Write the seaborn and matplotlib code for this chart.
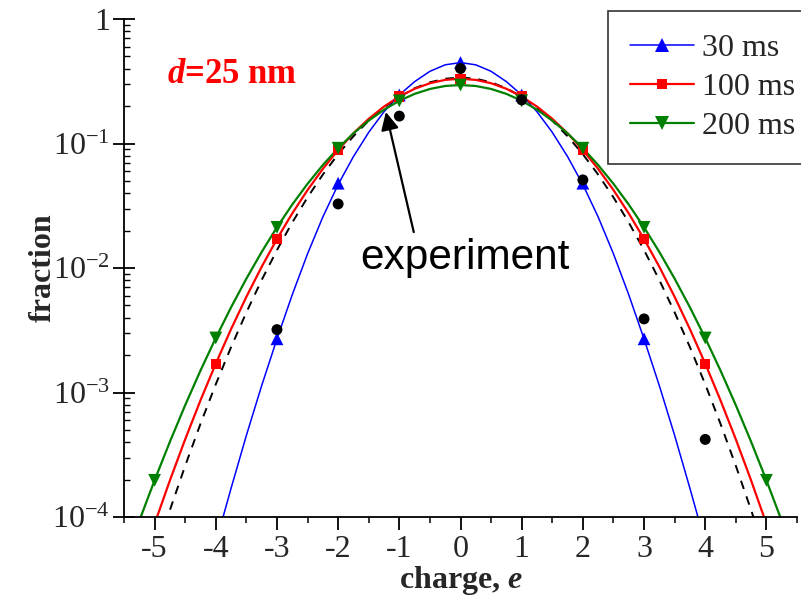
import matplotlib
matplotlib.use("Agg")
import matplotlib.pyplot as plt
import seaborn as sns
from matplotlib.lines import Line2D
from matplotlib.ticker import FixedLocator, FixedFormatter, LogLocator, MultipleLocator, NullFormatter

# ---------------- data ----------------
# markers at integer charges
charge_30 = [-3, -2, -1, 0, 1, 2, 3]
frac_30 = [0.0027, 0.048, 0.245, 0.447, 0.245, 0.048, 0.0027]

charge_100 = [-4, -3, -2, -1, 0, 1, 2, 3, 4]
frac_100 = [0.0017, 0.0171, 0.0887, 0.238, 0.331, 0.238, 0.0887, 0.0171, 0.0017]

charge_200 = [-5, -4, -3, -2, -1, 0, 1, 2, 3, 4, 5]
frac_200 = [0.000197, 0.00274, 0.0212, 0.0916, 0.220, 0.295, 0.220, 0.0916, 0.0212, 0.00274, 0.000197]

charge_exp = [-3, -2, -1, 0, 1, 2, 3, 4]
frac_exp = [0.0032, 0.0327, 0.166, 0.40, 0.224, 0.051, 0.0039, 0.00042]

# curves (every 0.25 in charge)
curve_x_30 = [-4.0, -3.75, -3.5, -3.25, -3.0, -2.75, -2.5, -2.25, -2.0, -1.75, -1.5, -1.25, -1.0,
              -0.75, -0.5, -0.25, 0.0, 0.25, 0.5, 0.75, 1.0, 1.25, 1.5, 1.75, 2.0, 2.25, 2.5,
              2.75, 3.0, 3.25, 3.5, 3.75, 4.0]
curve_y_30 = [6.17e-5, 1.70e-4, 4.52e-4, 1.135e-3, 2.69e-3, 6.10e-3, 1.30e-2, 2.57e-2, 4.68e-2,
              7.85e-2, 0.123, 0.180, 0.2455, 0.314, 0.380, 0.4285, 0.4467, 0.4285, 0.380, 0.314,
              0.2455, 0.180, 0.123, 7.85e-2, 4.68e-2, 2.57e-2, 1.30e-2, 6.10e-3, 2.69e-3,
              1.135e-3, 4.52e-4, 1.70e-4, 6.17e-5]

curve_x_100 = [-5.0, -4.75, -4.5, -4.25, -4.0, -3.75, -3.5, -3.25, -3.0, -2.75, -2.5, -2.25, -2.0,
               -1.75, -1.5, -1.25, -1.0, -0.75, -0.5, -0.25, 0.0, 0.25, 0.5, 0.75, 1.0, 1.25, 1.5,
               1.75, 2.0, 2.25, 2.5, 2.75, 3.0, 3.25, 3.5, 3.75, 4.0, 4.25, 4.5, 4.75, 5.0]
curve_y_100 = [8.81e-5, 1.966e-4, 4.21e-4, 8.65e-4, 1.706e-3, 3.229e-3, 5.865e-3, 1.022e-2, 1.71e-2,
               2.745e-2, 4.229e-2, 6.25e-2, 8.87e-2, 0.1208, 0.1579, 0.198, 0.2382, 0.2751, 0.3049,
               0.3244, 0.3311, 0.3244, 0.3049, 0.2751, 0.2382, 0.198, 0.1579, 0.1208, 8.87e-2,
               6.25e-2, 4.229e-2, 2.745e-2, 1.71e-2, 1.022e-2, 5.865e-3, 3.229e-3, 1.706e-3,
               8.65e-4, 4.21e-4, 1.966e-4, 8.81e-5]

curve_x_200 = [-5.5, -5.25, -5.0, -4.75, -4.5, -4.25, -4.0, -3.75, -3.5, -3.25, -3.0, -2.75, -2.5,
               -2.25, -2.0, -1.75, -1.5, -1.25, -1.0, -0.75, -0.5, -0.25, 0.0, 0.25, 0.5, 0.75,
               1.0, 1.25, 1.5, 1.75, 2.0, 2.25, 2.5, 2.75, 3.0, 3.25, 3.5, 3.75, 4.0, 4.25, 4.5,
               4.75, 5.0, 5.25, 5.5]
curve_y_200 = [4.25e-5, 9.32e-5, 1.972e-4, 4.02e-4, 7.91e-4, 1.50e-3, 2.742e-3, 4.831e-3, 8.209e-3,
               1.345e-2, 2.123e-2, 3.233e-2, 4.745e-2, 6.715e-2, 9.162e-2, 0.1206, 0.1528, 0.1869,
               0.2203, 0.2504, 0.2742, 0.2897, 0.2951, 0.2897, 0.2742, 0.2504, 0.2203, 0.1869,
               0.1528, 0.1206, 9.162e-2, 6.715e-2, 4.745e-2, 3.233e-2, 2.123e-2, 1.345e-2,
               8.209e-3, 4.831e-3, 2.742e-3, 1.50e-3, 7.91e-4, 4.02e-4, 1.972e-4, 9.32e-5, 4.25e-5]

curve_x_exp = [-5.0, -4.75, -4.5, -4.25, -4.0, -3.75, -3.5, -3.25, -3.0, -2.75, -2.5, -2.25, -2.0,
               -1.75, -1.5, -1.25, -1.0, -0.75, -0.5, -0.25, 0.0, 0.25, 0.5, 0.75, 1.0, 1.25, 1.5,
               1.75, 2.0, 2.25, 2.5, 2.75, 3.0, 3.25, 3.5, 3.75, 4.0, 4.25, 4.5, 4.75, 5.0]
curve_y_exp = [4.79e-5, 1.136e-4, 2.58e-4, 5.60e-4, 1.164e-3, 2.314e-3, 4.40e-3, 8.005e-3, 1.393e-2,
               2.32e-2, 3.694e-2, 5.627e-2, 8.204e-2, 0.1144, 0.1526, 0.1947, 0.2377, 0.2776,
               0.3101, 0.3314, 0.3388, 0.3314, 0.3101, 0.2776, 0.2377, 0.1947, 0.1526, 0.1144,
               8.204e-2, 5.627e-2, 3.694e-2, 2.32e-2, 1.393e-2, 8.005e-3, 4.40e-3, 2.314e-3,
               1.164e-3, 5.60e-4, 2.58e-4, 1.136e-4, 4.79e-5]

series_labels = ["30 ms", "100 ms", "200 ms"]
x_ticks = [-5, -4, -3, -2, -1, 0, 1, 2, 3, 4, 5]
x_tick_labels = ["-5", "-4", "-3", "-2", "-1", "0", "1", "2", "3", "4", "5"]
y_ticks = [1e-4, 1e-3, 1e-2, 1e-1, 1]
y_tick_labels = [r"$10^{-4}$", r"$10^{-3}$", r"$10^{-2}$", r"$10^{-1}$", "1"]

# ---------------- style ----------------
sns.set_theme(style="white")
plt.rcParams["font.family"] = ["Liberation Serif", "DejaVu Serif"]
plt.rcParams["mathtext.fontset"] = "custom"
plt.rcParams["mathtext.rm"] = "Liberation Serif"
plt.rcParams["mathtext.it"] = "Liberation Serif:style=italic:weight=bold"
plt.rcParams["mathtext.bf"] = "Liberation Serif:weight=bold"
plt.rcParams["mathtext.default"] = "regular"
plt.rcParams["axes.unicode_minus"] = False

BLUE, RED, GREEN = "#0000ff", "#ff0000", "#008000"
FS = 23

fig = plt.figure(figsize=(8.01, 5.98), dpi=100)
ax = fig.add_axes([124 / 801, 1 - 517 / 598, (797 - 124) / 801, (517 - 19) / 598])

# curves
sns.lineplot(x=curve_x_30, y=curve_y_30, ax=ax, color=BLUE, linewidth=1.1,
             sort=False, estimator=None, legend=False)
sns.lineplot(x=curve_x_exp, y=curve_y_exp, ax=ax, color="black", linewidth=1.4,
             sort=False, estimator=None, legend=False)
ax.lines[-1].set_dashes((4.5, 4.0))
sns.lineplot(x=curve_x_100, y=curve_y_100, ax=ax, color=RED, linewidth=1.6,
             sort=False, estimator=None, legend=False)
sns.lineplot(x=curve_x_200, y=curve_y_200, ax=ax, color=GREEN, linewidth=1.6,
             sort=False, estimator=None, legend=False)

# markers
sns.scatterplot(x=charge_30, y=frac_30, ax=ax, marker="^", s=85, color=BLUE,
                edgecolor="none", linewidth=0, zorder=4, legend=False)
sns.scatterplot(x=charge_100, y=frac_100, ax=ax, marker="s", s=55, color=RED,
                edgecolor="none", linewidth=0, zorder=4, legend=False)
sns.scatterplot(x=charge_200, y=frac_200, ax=ax, marker="v", s=85, color=GREEN,
                edgecolor="none", linewidth=0, zorder=4, legend=False)
sns.scatterplot(x=charge_exp, y=frac_exp, ax=ax, marker="o", s=62, color="black",
                edgecolor="none", linewidth=0, zorder=5, legend=False)

# axes
ax.set_yscale("log")
ax.set_xlim(-5.5, 5.5)
ax.set_ylim(1e-4, 1)
ax.xaxis.set_major_locator(FixedLocator(x_ticks))
ax.xaxis.set_major_formatter(FixedFormatter(x_tick_labels))
ax.xaxis.set_minor_locator(MultipleLocator(0.5))
ax.yaxis.set_major_locator(FixedLocator(y_ticks))
ax.yaxis.set_major_formatter(FixedFormatter(y_tick_labels))
ax.yaxis.set_minor_locator(LogLocator(base=10, subs=range(2, 10), numticks=20))
ax.yaxis.set_minor_formatter(NullFormatter())

for side in ["top", "right"]:
    ax.spines[side].set_visible(False)
for side in ["left", "bottom"]:
    ax.spines[side].set_color("black")
    ax.spines[side].set_linewidth(1.3)

ax.tick_params(axis="x", which="major", direction="out", length=9, width=1.3,
               color="black", labelsize=FS, pad=4, bottom=True)
ax.tick_params(axis="x", which="minor", direction="out", length=4.5, width=1.1,
               color="black", bottom=True)
ax.tick_params(axis="y", which="major", direction="inout", length=16, width=1.3,
               color="black", labelsize=FS, pad=2, left=True)
ax.tick_params(axis="y", which="minor", direction="in", length=4, width=1.0,
               color="black", left=True)

ax.set_xlabel(r"charge, $\mathit{e}$", fontsize=FS, fontweight="bold")
ax.set_ylabel("fraction", fontsize=FS, fontweight="bold")
ax.xaxis.set_label_coords(0.5, -0.094)
ax.yaxis.label.set_va("center")
ax.yaxis.set_label_coords(-0.12, 0.5)

# annotations
ax.text(-4.8, 0.36, r"$\mathit{d}$=25 nm", color=RED, fontsize=25,
        fontweight="bold", ha="left", va="center")

ax.annotate("experiment", xy=(-1.22, 0.179), xytext=(0.08, 0.0098),
            fontsize=30.5, family=["Liberation Sans", "DejaVu Sans"],
            ha="center", va="baseline", color="black",
            arrowprops=dict(arrowstyle="-|>", color="black", lw=1.6,
                            mutation_scale=27, relpos=(0.26, 1.0),
                            shrinkA=2, shrinkB=0))

# legend
handles = [
    Line2D([], [], color=BLUE, lw=1.1, marker="^", ms=10, markeredgewidth=0),
    Line2D([], [], color=RED, lw=1.6, marker="s", ms=7.5, markeredgewidth=0),
    Line2D([], [], color=GREEN, lw=1.6, marker="v", ms=10, markeredgewidth=0),
]
leg = fig.legend(handles, series_labels, loc="upper left",
                 bbox_to_anchor=(608 / 801, 1 - 11 / 598), bbox_transform=fig.transFigure,
                 fontsize=23, frameon=True, fancybox=False, edgecolor="#333333",
                 framealpha=1, facecolor="white", borderpad=0.7, handlelength=2.0,
                 handletextpad=0.25, labelspacing=0.31, borderaxespad=0)
leg.get_frame().set_linewidth(1.2)

fig.savefig("out.png", dpi=100)
